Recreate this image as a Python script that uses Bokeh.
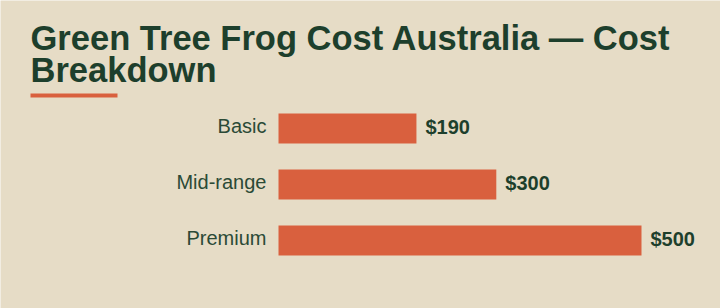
from bokeh.plotting import figure
from bokeh.models import Range1d, Label, LabelSet, BoxAnnotation, ColumnDataSource
from bokeh.core.properties import value
from bokeh.embed import file_html
from bokeh.resources import INLINE

categories = ["Basic", "Mid-range", "Premium"]
costs = [190, 300, 500]
value_labels = ["$190", "$300", "$500"]
title_lines = ["Green Tree Frog Cost Australia \u2014 Cost", "Breakdown"]

BG = "#e6dcc6"
DARK = "#1d3f2c"
ORANGE = "#d9603e"

W, H = 720, 308
bar_left_px = 278          # pixel where the value 0 sits
px_per_unit = 0.726        # pixels per dollar
first_center_px = 128      # pixel row of the first category centre
row_px = 56                # pixels between category rows

x_start = -bar_left_px / px_per_unit
x_end = (W - bar_left_px) / px_per_unit
y_top = -first_center_px / row_px
y_bottom = (H - first_center_px) / row_px

p = figure(width=W, height=H, output_backend="svg", toolbar_location=None,
           x_range=Range1d(x_start, x_end),
           y_range=Range1d(y_bottom, y_top),
           min_border=0, min_border_left=0, min_border_right=0,
           min_border_top=0, min_border_bottom=0)
p.background_fill_color = BG
p.border_fill_color = BG
p.outline_line_color = None
p.xaxis.visible = False
p.yaxis.visible = False
p.grid.visible = False

rows = list(range(len(categories)))
src = ColumnDataSource(dict(row=rows, cat=categories, cost=costs,
                            zero=[0] * len(costs), lab=value_labels))
p.hbar(y="row", right="cost", left=0, height=0.54, source=src,
       fill_color=ORANGE, line_color=None)

p.add_layout(LabelSet(x="zero", y="row", text="cat", source=src, x_offset=-12, y_offset=2.5,
                      text_align="right", text_baseline="middle",
                      text_font=value("Liberation Sans"), text_font_size=value("20px"),
                      text_color="#2b4a36"))
p.add_layout(LabelSet(x="cost", y="row", text="lab", source=src, x_offset=9, y_offset=2,
                      text_align="left", text_baseline="middle",
                      text_font=value("Liberation Sans"), text_font_size=value("20px"),
                      text_font_style="bold", text_color=DARK))

p.add_layout(Label(x=30, y=H - 37, x_units="screen", y_units="screen",
                   text=title_lines[0], text_font="Liberation Sans",
                   text_font_size="34.5px", text_font_style="bold",
                   text_color=DARK, text_baseline="alphabetic"))
p.add_layout(Label(x=30, y=H - 69.5, x_units="screen", y_units="screen",
                   text=title_lines[1], text_font="Liberation Sans",
                   text_font_size="34.5px", text_font_style="bold",
                   text_color=DARK, text_baseline="alphabetic"))
p.add_layout(BoxAnnotation(left=30, right=117, top=H - 93, bottom=H - 97,
                           left_units="screen", right_units="screen",
                           top_units="screen", bottom_units="screen",
                           fill_color=ORANGE, fill_alpha=1.0, line_color=None))

open("out.html", "w").write(file_html(p, INLINE))
